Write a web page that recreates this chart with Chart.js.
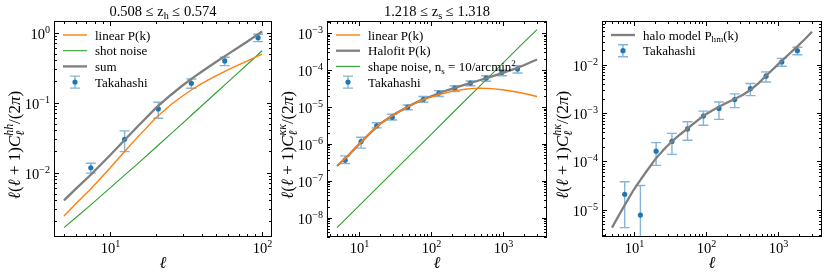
<!DOCTYPE html>
<html>
<head>
<meta charset="utf-8">
<script src="https://cdn.jsdelivr.net/npm/chart.js@4.4.1/dist/chart.umd.min.js"></script>
<style>
html, body { margin: 0; padding: 0; background: #fff; }
#wrap { position: relative; width: 830px; height: 277px; overflow: hidden; }
canvas { position: absolute; top: 0; }
</style>
</head>
<body>
<div id="wrap">
  <canvas id="c1" style="left:0px" width="277" height="277"></canvas>
  <canvas id="c2" style="left:277px" width="276" height="277"></canvas>
  <canvas id="c3" style="left:553px" width="277" height="277"></canvas>
</div>
<script>
// ---- panel 1 : halo-halo ----
const ell1 = [5, 6, 7.5, 10, 12.5, 15, 20, 25, 30, 35, 40, 50, 60, 70, 80, 100];
const linear1 = [0.0024, 0.0036, 0.0058, 0.0115, 0.020, 0.031, 0.060, 0.092, 0.124, 0.156, 0.186, 0.243, 0.296, 0.345, 0.392, 0.49];
const shot1 = [0.00163, 0.00228, 0.00346, 0.00598, 0.00917, 0.0130, 0.0228, 0.0353, 0.0505, 0.0685, 0.0891, 0.139, 0.199, 0.270, 0.352, 0.549];
const sum1 = [0.0040, 0.0059, 0.0093, 0.0175, 0.0292, 0.044, 0.083, 0.127, 0.175, 0.225, 0.275, 0.382, 0.495, 0.615, 0.744, 1.039];
const bins1 = [7.5, 12.5, 20.8, 34.3, 56.8, 94];
const taka1 = [0.0117, 0.0299, 0.081, 0.188, 0.393, 0.845];
const taka1Lo = [0.0098, 0.0199, 0.0596, 0.160, 0.336, 0.74];
const taka1Hi = [0.0136, 0.0393, 0.101, 0.217, 0.443, 0.944];

// ---- panel 2 : convergence ----
const ell2 = [5, 7, 10, 15, 20, 30, 50, 70, 100, 150, 200, 300, 400, 500, 700, 1000, 1500, 2000, 3000];
const linear2 = [2.5e-7, 4.6e-7, 9.5e-7, 2.1e-6, 3.5e-6, 6.0e-6, 1.04e-5, 1.42e-5, 1.82e-5, 2.3e-5, 2.65e-5, 3.0e-5, 3.15e-5, 3.2e-5, 3.1e-5, 2.9e-5, 2.55e-5, 2.3e-5, 1.9e-5];
const halofit2 = [2.5e-7, 4.6e-7, 9.5e-7, 2.1e-6, 3.5e-6, 6.0e-6, 1.05e-5, 1.45e-5, 1.9e-5, 2.6e-5, 3.1e-5, 4.0e-5, 4.7e-5, 5.4e-5, 6.6e-5, 8.3e-5, 1.08e-4, 1.35e-4, 1.9e-4];
const ellNoise2 = [5, 10, 20, 50, 100, 200, 500, 1000, 2000, 3000];
const noise2 = [5.4e-9, 2.06e-8, 7.8e-8, 4.6e-7, 1.75e-6, 6.7e-6, 3.9e-5, 1.49e-4, 5.7e-4, 1.22e-3];
const bins2 = [6.5, 10.8, 17.8, 29.3, 48, 79, 130, 216, 357, 590, 975, 1610];
const taka2 = [3.6e-7, 1.15e-6, 3.05e-6, 5.2e-6, 9.8e-6, 1.6e-5, 2.35e-5, 3.2e-5, 4.4e-5, 6.0e-5, 8.5e-5, 1.05e-4];
const taka2Lo = [2.9e-7, 7.6e-7, 2.7e-6, 4.4e-6, 8.3e-6, 1.33e-5, 1.9e-5, 2.6e-5, 3.7e-5, 4.9e-5, 6.9e-5, 8.2e-5];
const taka2Hi = [4.7e-7, 1.5e-6, 3.7e-6, 6.3e-6, 1.12e-5, 1.9e-5, 2.75e-5, 3.7e-5, 5.0e-5, 6.9e-5, 1.0e-4, 1.29e-4];

// ---- panel 3 : halo-convergence ----
const ell3 = [5, 6, 7.5, 10, 12.5, 15, 20, 27, 35, 45, 56, 75, 93, 120, 153, 200, 253, 330, 418, 550, 690, 900, 1140, 1500, 1880, 2400, 3000];
const halo3 = [4.3e-6, 7.0e-6, 1.25e-5, 2.6e-5, 4.2e-5, 6.2e-5, 1.12e-4, 1.85e-4, 2.7e-4, 3.7e-4, 4.8e-4, 6.8e-4, 8.8e-4, 1.1e-3, 1.35e-3, 1.65e-3, 1.95e-3, 2.4e-3, 3.0e-3, 4.2e-3, 5.9e-3, 8.6e-3, 1.2e-2, 1.75e-2, 2.4e-2, 3.4e-2, 4.8e-2];
const bins3 = [7.5, 12.4, 20.5, 34, 56, 93, 153, 253, 418, 690, 1140, 1880];
const taka3 = [2.1e-5, 7.8e-6, 1.63e-4, 2.6e-4, 4.7e-4, 8.7e-4, 1.25e-3, 1.9e-3, 3.2e-3, 5.8e-3, 1.14e-2, 1.95e-2];
const taka3Lo = [4.3e-6, 1e-7, 8.3e-5, 1.4e-4, 2.75e-4, 5.6e-4, 7.4e-4, 1.3e-3, 2.3e-3, 4.4e-3, 9.3e-3, 1.6e-2];
const taka3Hi = [3.8e-5, 3.2e-5, 2.45e-4, 3.8e-4, 6.6e-4, 1.1e-3, 1.7e-3, 2.5e-3, 4.1e-3, 7.1e-3, 1.35e-2, 2.3e-2];

const ORANGE = '#ff7f0e', GREEN = '#2ca02c', GRAY = '#7f7f7f', BLUE = '#1f77b4';
const ERR = 'rgba(31,119,180,0.55)';
const FONT = '"Liberation Serif", "DejaVu Serif", serif';

function font(sz, it) {
    return (it ? 'italic ' : '') + sz + 'px ' + FONT;
}

function xy(xs, ys) {
    return xs.map((x, i) => ({ x: x, y: ys[i] }));
}

function lineSet(label, xs, ys, color, width) {
    return { label: label, data: xy(xs, ys), borderColor: color, borderWidth: width, pointRadius: 0, fill: false, tension: 0 };
}

function takaSet(xs, ys, lo, hi) {
    return {
        label: 'Takahashi', data: xy(xs, ys), showLine: false,
        pointRadius: 2.6, pointBackgroundColor: BLUE, pointBorderWidth: 0,
        errLo: lo, errHi: hi, isErr: true
    };
}

// rich text: parts = [{t, it, sub, sup, ss:[sub, sup]}]
function richWidth(ctx, parts, sz) {
    let w = 0;
    parts.forEach(p => {
        if (p.ss) {
            ctx.font = font(sz * 0.7, p.it);
            w += Math.max(ctx.measureText(p.ss[0]).width, ctx.measureText(p.ss[1]).width);
        } else {
            ctx.font = font((p.sub || p.sup) ? sz * 0.7 : sz, p.it);
            w += ctx.measureText(p.t).width;
        }
    });
    return w;
}

function drawRich(ctx, parts, x, y, sz, align) {
    const w = richWidth(ctx, parts, sz);
    let cx = align === 'center' ? x - w / 2 : align === 'right' ? x - w : x;
    ctx.textAlign = 'left';
    ctx.textBaseline = 'alphabetic';
    parts.forEach(p => {
        if (p.ss) {
            ctx.font = font(sz * 0.7, p.it);
            ctx.fillText(p.ss[1], cx, y - sz * 0.4);
            ctx.fillText(p.ss[0], cx, y + sz * 0.22);
            cx += Math.max(ctx.measureText(p.ss[0]).width, ctx.measureText(p.ss[1]).width);
        } else {
            const small = p.sub || p.sup;
            ctx.font = font(small ? sz * 0.7 : sz, p.it);
            const dy = p.sup ? -sz * 0.4 : p.sub ? sz * 0.22 : 0;
            ctx.fillText(p.t, cx, y + dy);
            cx += ctx.measureText(p.t).width;
        }
    });
}

function powLabel(e) {
    return [{ t: '10' }, { t: (e < 0 ? '\u2212' : '') + Math.abs(e), sup: true }];
}

function logTicks(min, max) {
    const out = [];
    for (let d = Math.floor(Math.log10(min)); d <= Math.ceil(Math.log10(max)); d++) {
        for (let m = 1; m <= 9; m++) {
            const v = m * Math.pow(10, d);
            if (v >= min && v <= max) out.push({ v: v, major: m === 1, e: d });
        }
    }
    return out;
}

function errorBars(chart, ds) {
    const ctx = chart.ctx, xs = chart.scales.x, ys = chart.scales.y, a = chart.chartArea;
    ctx.save();
    ctx.beginPath();
    ctx.rect(a.left, a.top, a.right - a.left, a.bottom - a.top);
    ctx.clip();
    ctx.strokeStyle = ERR;
    ctx.lineWidth = 1.4;
    ds.data.forEach((p, i) => {
        const px = xs.getPixelForValue(p.x);
        const y0 = ys.getPixelForValue(ds.errLo[i]);
        const y1 = ys.getPixelForValue(ds.errHi[i]);
        ctx.beginPath();
        ctx.moveTo(px, y0); ctx.lineTo(px, y1);
        ctx.moveTo(px - 5, y0); ctx.lineTo(px + 5, y0);
        ctx.moveTo(px - 5, y1); ctx.lineTo(px + 5, y1);
        ctx.stroke();
    });
    ctx.restore();
}

function deco(title, ylabel) {
    return {
        id: 'deco',
        beforeDatasetDraw(chart, args) {
            const ds = chart.data.datasets[args.index];
            if (ds.isErr) errorBars(chart, ds);
        },
        afterDraw(chart) {
            const ctx = chart.ctx, a = chart.chartArea;
            const xs = chart.scales.x, ys = chart.scales.y;
            ctx.save();
            ctx.fillStyle = '#000';
            ctx.strokeStyle = '#000';
            ctx.lineWidth = 1;
            // frame
            ctx.strokeRect(Math.round(a.left) + 0.5, Math.round(a.top) + 0.5,
                Math.round(a.right - a.left) - 1, Math.round(a.bottom - a.top) - 1);
            // x ticks (inward, both sides)
            logTicks(xs.min, xs.max).forEach(t => {
                const px = Math.round(xs.getPixelForValue(t.v)) + 0.5;
                const len = t.major ? 5 : 3;
                ctx.beginPath();
                ctx.moveTo(px, a.bottom); ctx.lineTo(px, a.bottom - len);
                ctx.moveTo(px, a.top); ctx.lineTo(px, a.top + len);
                ctx.stroke();
                if (t.major) drawRich(ctx, powLabel(t.e), px, a.bottom + 16, 14.5, 'center');
            });
            // y ticks
            logTicks(ys.min, ys.max).forEach(t => {
                const py = Math.round(ys.getPixelForValue(t.v)) + 0.5;
                const len = t.major ? 5 : 3;
                ctx.beginPath();
                ctx.moveTo(a.left, py); ctx.lineTo(a.left + len, py);
                ctx.moveTo(a.right, py); ctx.lineTo(a.right - len, py);
                ctx.stroke();
                if (t.major) drawRich(ctx, powLabel(t.e), a.left - 4, py + 5.5, 14.5, 'right');
            });
            // axis labels
            const cx = (a.left + a.right) / 2;
            drawRich(ctx, [{ t: '\u2113', it: true }], cx, a.bottom + 31, 16.5, 'center');
            ctx.save();
            ctx.translate(a.left - 34, (a.top + a.bottom) / 2 + 16);
            ctx.rotate(-Math.PI / 2);
            drawRich(ctx, ylabel, 0, 0, 17, 'center');
            ctx.restore();
            if (title) drawRich(ctx, title, cx, 16, 14.5, 'center');
            // legend
            const lx0 = a.left + 9, lx1 = a.left + 33, tx = a.left + 41;
            chart.data.datasets.forEach((ds, i) => {
                const y = a.top + 14 + i * 15.7;
                if (ds.isErr) {
                    const mx = (lx0 + lx1) / 2;
                    ctx.strokeStyle = ERR;
                    ctx.lineWidth = 1.4;
                    ctx.beginPath();
                    ctx.moveTo(mx, y - 6); ctx.lineTo(mx, y + 6);
                    ctx.moveTo(mx - 5, y - 6); ctx.lineTo(mx + 5, y - 6);
                    ctx.moveTo(mx - 5, y + 6); ctx.lineTo(mx + 5, y + 6);
                    ctx.stroke();
                    ctx.fillStyle = BLUE;
                    ctx.beginPath();
                    ctx.arc(mx, y, 2.6, 0, Math.PI * 2);
                    ctx.fill();
                } else {
                    ctx.strokeStyle = ds.borderColor;
                    ctx.lineWidth = ds.borderWidth;
                    ctx.beginPath();
                    ctx.moveTo(lx0, y); ctx.lineTo(lx1, y);
                    ctx.stroke();
                }
                ctx.fillStyle = '#000';
                drawRich(ctx, ds.rich || [{ t: ds.label }], tx, y + 4.5, 13, 'left');
            });
            ctx.restore();
        }
    };
}

function makeChart(id, pad, xr, yr, datasets, title, ylabel) {
    return new Chart(document.getElementById(id), {
        type: 'line',
        data: { datasets: datasets },
        options: {
            responsive: false,
            animation: false,
            layout: { padding: pad },
            plugins: { legend: { display: false }, tooltip: { enabled: false } },
            scales: {
                x: { type: 'logarithmic', min: xr[0], max: xr[1], display: false },
                y: { type: 'logarithmic', min: yr[0], max: yr[1], display: false }
            }
        },
        plugins: [deco(title, ylabel)]
    });
}

function ylab(sup) {
    return [{ t: '\u2113', it: true }, { t: '(' }, { t: '\u2113', it: true }, { t: ' + 1)' },
        { t: 'C', it: true }, { ss: ['\u2113', sup], it: true }, { t: '/(2' }, { t: '\u03c0', it: true }, { t: ')' }];
}

makeChart('c1', { left: 54, top: 21, right: 5, bottom: 40 }, [4.3, 116], [1.2e-3, 1.46], [
    lineSet('linear P(k)', ell1, linear1, ORANGE, 1.4),
    lineSet('shot noise', ell1, shot1, GREEN, 1.1),
    lineSet('sum', ell1, sum1, GRAY, 2.3),
    takaSet(bins1, taka1, taka1Lo, taka1Hi)
], [{ t: '0.508 \u2264 z' }, { t: 'h', sub: true }, { t: ' \u2264 0.574' }], ylab('hh'));

const noiseSet = lineSet('shape noise', ellNoise2, noise2, GREEN, 1.1);
noiseSet.rich = [{ t: 'shape noise, n' }, { t: 's', sub: true }, { t: ' = 10/arcmin' }, { t: '2', sup: true }];
makeChart('c2', { left: 50, top: 21, right: 6, bottom: 40 }, [3.63, 4130], [3.0e-9, 2.1e-3], [
    lineSet('linear P(k)', ell2, linear2, ORANGE, 1.4),
    lineSet('Halofit P(k)', ell2, halofit2, GRAY, 2.3),
    noiseSet,
    takaSet(bins2, taka2, taka2Lo, taka2Hi)
], [{ t: '1.218 \u2264 z' }, { t: 's', sub: true }, { t: ' \u2264 1.318' }], ylab('\u03ba\u03ba'));

const haloSet = lineSet('halo model', ell3, halo3, GRAY, 2.3);
haloSet.rich = [{ t: 'halo model P' }, { t: 'hm', sub: true }, { t: '(k)' }];
makeChart('c3', { left: 49, top: 21, right: 8, bottom: 40 }, [3.63, 4130], [2.75e-6, 0.08], [
    haloSet,
    takaSet(bins3, taka3, taka3Lo, taka3Hi)
], null, ylab('h\u03ba'));
</script>
</body>
</html>
